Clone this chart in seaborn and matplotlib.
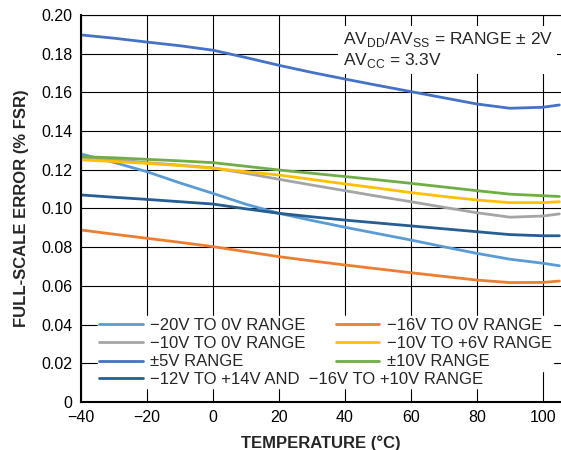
import matplotlib
matplotlib.use("Agg")
import matplotlib.pyplot as plt
import seaborn as sns
import pandas as pd

# temperatures (°C)
temps = [-40, -30, -20, -10, 0, 10, 20, 30, 40, 50, 60, 70, 80, 90, 100, 105]

# full-scale error (% FSR), one list per range
err_m20_0 = [0.1282, 0.1238, 0.1190, 0.1132, 0.1078, 0.1022, 0.0975, 0.0938,
             0.0903, 0.0870, 0.0837, 0.0802, 0.0768, 0.0738, 0.0717, 0.0704]
err_m16_0 = [0.0889, 0.0867, 0.0846, 0.0825, 0.0803, 0.0777, 0.0751, 0.0729,
             0.0708, 0.0688, 0.0668, 0.0649, 0.0630, 0.0617, 0.0618, 0.0625]
err_m10_0 = [0.1265, 0.1252, 0.1237, 0.1224, 0.1210, 0.1182, 0.1151, 0.1121,
             0.1092, 0.1063, 0.1035, 0.1006, 0.0978, 0.0955, 0.0961, 0.0972]
err_m10_p6 = [0.1251, 0.1243, 0.1233, 0.1222, 0.1208, 0.1190, 0.1173, 0.1150,
              0.1127, 0.1105, 0.1082, 0.1062, 0.1044, 0.1030, 0.1030, 0.1035]
err_pm5 = [0.1897, 0.1880, 0.1860, 0.1841, 0.1818, 0.1780, 0.1740, 0.1703,
           0.1669, 0.1636, 0.1604, 0.1572, 0.1540, 0.1518, 0.1523, 0.1535]
err_pm10 = [0.1268, 0.1262, 0.1254, 0.1246, 0.1237, 0.1218, 0.1199, 0.1182,
            0.1165, 0.1148, 0.1130, 0.1111, 0.1092, 0.1074, 0.1066, 0.1062]
err_m12_p14 = [0.1070, 0.1058, 0.1047, 0.1035, 0.1023, 0.0998, 0.0975, 0.0957,
               0.0940, 0.0925, 0.0910, 0.0895, 0.0880, 0.0865, 0.0859, 0.0859]

labels = ["−20V TO 0V RANGE", "−16V TO 0V RANGE", "−10V TO 0V RANGE",
          "−10V TO +6V RANGE", "±5V RANGE", "±10V RANGE",
          "−12V TO +14V AND  −16V TO +10V RANGE"]
series = [err_m20_0, err_m16_0, err_m10_0, err_m10_p6, err_pm5, err_pm10, err_m12_p14]
colors = ["#5B9BD5", "#ED7D31", "#A5A5A5", "#FFC000", "#4472C4", "#70AD47", "#255E91"]

xticks = [-40, -20, 0, 20, 40, 60, 80, 100]
yticks = [0, 0.02, 0.04, 0.06, 0.08, 0.10, 0.12, 0.14, 0.16, 0.18, 0.20]
ytick_labels = ["0", "0.02", "0.04", "0.06", "0.08", "0.10", "0.12", "0.14",
                "0.16", "0.18", "0.20"]

rows = []
for lab, vals in zip(labels, series):
    for t, v in zip(temps, vals):
        rows.append({"temp": t, "err": v, "range": lab})
df = pd.DataFrame(rows)

sns.set_style("white")
plt.rcParams["font.family"] = ["Liberation Sans", "DejaVu Sans"]

fig = plt.figure(figsize=(5.61, 4.5), dpi=100)
ax = fig.add_axes([0.1444, 0.1067, 0.8556, 0.86])

sns.lineplot(data=df, x="temp", y="err", hue="range", hue_order=labels,
             palette=colors, linewidth=2.0, legend=False, ax=ax)

ax.set_xlim(-40, 105.5)
ax.set_ylim(0, 0.20)
ax.set_xticks(xticks)
ax.set_yticks(yticks)
ax.set_yticklabels(ytick_labels)
ax.tick_params(axis="both", direction="in", length=6, width=0.8, colors="black",
               labelsize=11.5, pad=6, labelcolor="black")
ax.grid(True, color="black", linewidth=0.8)
for side in ["left", "bottom", "top"]:
    ax.spines[side].set_color("black")
ax.spines["left"].set_linewidth(1.5)
ax.spines["bottom"].set_linewidth(1.5)
ax.spines["top"].set_linewidth(0.8)
ax.spines["right"].set_visible(False)

ax.set_xlabel("TEMPERATURE (°C)", fontsize=12, fontweight="bold", labelpad=7)
ax.set_ylabel("FULL-SCALE ERROR (% FSR)", fontsize=12, fontweight="bold", labelpad=9)

lines = ax.get_lines()
# column-major order so the two columns read left/right like the original
order = [0, 2, 4, 1, 3, 5]
leg1 = ax.legend([lines[i] for i in order], [labels[i] for i in order], ncol=2,
                 loc="upper left", bbox_to_anchor=(0.035, 0.222), frameon=True,
                 fontsize=12, handlelength=2.6, handletextpad=0.45,
                 columnspacing=1.8, labelspacing=0.2, borderpad=0.1,
                 borderaxespad=0)
leg1.get_frame().set_edgecolor("white")
leg1.get_frame().set_facecolor("white")
leg1.get_frame().set_alpha(1)
ax.add_artist(leg1)
leg2 = ax.legend(lines[6:], labels[6:], loc="upper left",
                 bbox_to_anchor=(0.035, 0.083), frameon=True, fontsize=12,
                 handlelength=2.6, handletextpad=0.45,
                 borderpad=0.1, borderaxespad=0)
leg2.get_frame().set_edgecolor("white")
leg2.get_frame().set_facecolor("white")
leg2.get_frame().set_alpha(1)

ax.text(0.545, 0.962,
        r"AV$_{\mathregular{DD}}$/AV$_{\mathregular{SS}}$ = RANGE ± 2V" + "\n"
        + r"AV$_{\mathregular{CC}}$ = 3.3V",
        transform=ax.transAxes, fontsize=12.5, va="top", ha="left",
        linespacing=1.15,
        bbox=dict(facecolor="white", edgecolor="none", pad=3), zorder=5)

fig.savefig("out.png", dpi=100)
